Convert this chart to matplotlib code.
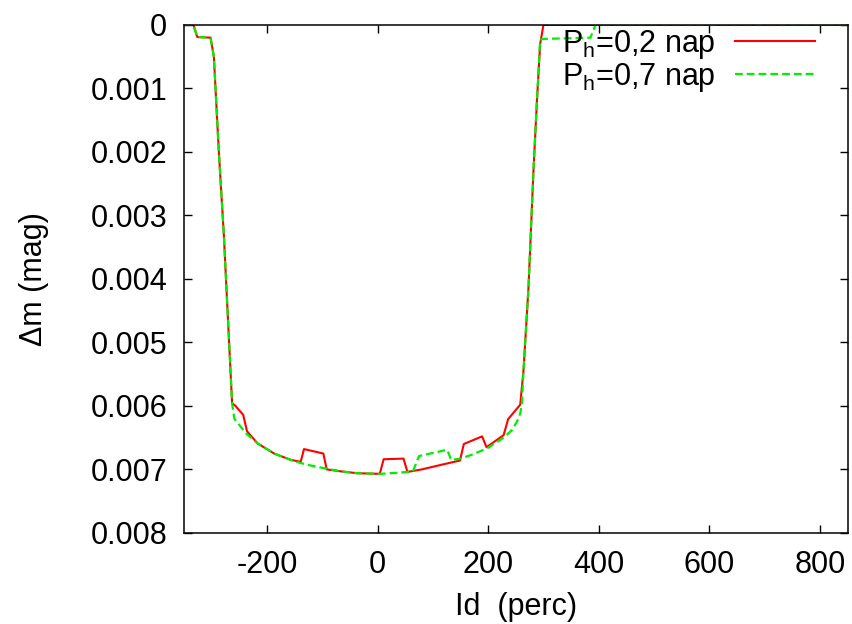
import matplotlib
matplotlib.use('Agg')
import matplotlib.pyplot as plt

plt.rcParams['font.family'] = ['Liberation Sans', 'DejaVu Sans']
plt.rcParams['mathtext.fontset'] = 'custom'
plt.rcParams['mathtext.rm'] = 'Liberation Sans'
plt.rcParams['axes.unicode_minus'] = False

# P_h = 0.2 day (red, solid)
x_02 = [-350, -333, -326, -302, -296, -287, -278, -269, -263, -258, -243, -236,
        -217, -187, -157, -139, -133, -98, -92, -67, -37, 4, 11, 47, 54, 80,
        114, 149, 156, 189, 197, 228, 236, 258, 264, 273, 282, 288, 294, 300, 850]
y_02 = [0, 0, 0.00019, 0.0002, 0.0005, 0.002, 0.0033, 0.0049, 0.00596, 0.00599,
        0.00614, 0.0064, 0.00659, 0.00675, 0.00685, 0.00688, 0.00668, 0.00675,
        0.0070, 0.00703, 0.00706, 0.00707, 0.00684, 0.00683, 0.00704, 0.0070,
        0.00693, 0.00686, 0.0066, 0.00648, 0.00665, 0.00646, 0.00621, 0.00598,
        0.00543, 0.00412, 0.00228, 0.00123, 0.0003, 0, 0]

# P_h = 0.7 day (green, dashed)
x_07 = [-350, -333, -326, -302, -296, -287, -278, -269, -263, -259, -250, -238,
        -217, -187, -157, -139, -120, -97, -67, -37, 5, 40, 64, 75, 126, 133,
        150, 170, 198, 228, 243, 252, 258, 261, 264, 273, 282, 288, 294, 300,
        385, 394, 850]
y_07 = [0, 0, 0.00019, 0.0002, 0.0005, 0.002, 0.0033, 0.0049, 0.00596, 0.0062,
        0.0063, 0.00643, 0.00659, 0.00675, 0.00685, 0.0069, 0.00694, 0.00698,
        0.00703, 0.00706, 0.00707, 0.00705, 0.00703, 0.00679, 0.00669, 0.00685,
        0.00683, 0.00677, 0.00667, 0.0065, 0.00638, 0.00625, 0.00612, 0.00596,
        0.00543, 0.00412, 0.00228, 0.00123, 0.00023, 0.00022, 0.0002, 0, 0]

xticks = [-200, 0, 200, 400, 600, 800]
yticks = [0, 0.001, 0.002, 0.003, 0.004, 0.005, 0.006, 0.007, 0.008]
ytick_labels = ['0', '0.001', '0.002', '0.003', '0.004', '0.005', '0.006', '0.007', '0.008']

fig = plt.figure(figsize=(8.53, 6.24), dpi=100)
ax = fig.add_axes([0.2157, 0.146, 0.778, 0.814])

ax.plot(x_02, y_02, color='#ff0000', lw=1.5, label=r'P$_\mathregular{h}$=0,2 nap', zorder=2)
ax.plot(x_07, y_07, color='#00ee00', lw=1.6, dashes=(3.5, 1.8),
        label=r'P$_\mathregular{h}$=0,7 nap', zorder=2.2)

ax.set_xlim(-350, 850)
ax.set_ylim(0.008, 0)
ax.set_xticks(xticks)
ax.set_yticks(yticks)
ax.set_yticklabels(ytick_labels)
ax.tick_params(direction='in', length=6, width=1, labelsize=22, top=True, right=True, pad=12)
ax.tick_params(axis='x', pad=12)
for s in ax.spines.values():
    s.set_linewidth(1.1)
    s.set_zorder(3)

ax.set_xlabel('Id  (perc)', fontsize=22, labelpad=9)
ax.set_ylabel('\u0394m (mag)', fontsize=22, labelpad=30)

ax.legend(loc='upper right', bbox_to_anchor=(0.978, 1.03), frameon=False, fontsize=22,
          markerfirst=False, handlelength=2.6, handletextpad=0.65, labelspacing=0.0,
          borderaxespad=0.2)

fig.savefig('out.png', dpi=100)
